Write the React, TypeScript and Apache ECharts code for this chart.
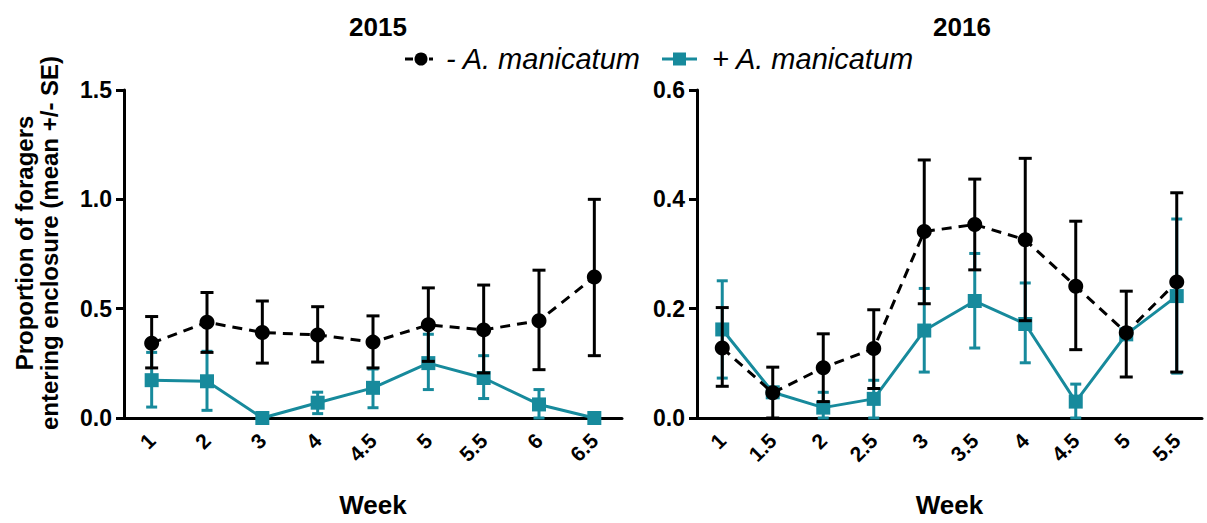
import React, { useEffect, useRef } from "react";
import * as echarts from "echarts";

const weeks2015 = ["1", "2", "3", "4", "4.5", "5", "5.5", "6", "6.5"];
const absent2015 = [0.342, 0.438, 0.391, 0.38, 0.347, 0.426, 0.403, 0.445, 0.645];
const absent2015Upper = [0.464, 0.574, 0.535, 0.509, 0.467, 0.595, 0.608, 0.676, 1.0];
const absent2015Lower = [0.229, 0.3, 0.251, 0.256, 0.229, 0.259, 0.206, 0.221, 0.285];
const present2015 = [0.173, 0.168, 0, 0.07, 0.138, 0.251, 0.183, 0.062, 0];
const present2015Upper = [0.3, 0.305, 0, 0.118, 0.224, 0.383, 0.285, 0.13, 0];
const present2015Lower = [0.05, 0.035, 0, 0.02, 0.047, 0.13, 0.089, 0, 0];

const weeks2016 = ["1", "1.5", "2", "2.5", "3", "3.5", "4", "4.5", "5", "5.5"];
const absent2016 = [0.128, 0.046, 0.092, 0.127, 0.341, 0.354, 0.326, 0.241, 0.156, 0.249];
const absent2016Upper = [0.202, 0.093, 0.154, 0.198, 0.472, 0.437, 0.475, 0.36, 0.232, 0.412];
const absent2016Lower = [0.058, 0, 0.03, 0.054, 0.209, 0.271, 0.178, 0.125, 0.075, 0.084];
const present2016 = [0.162, 0.047, 0.019, 0.035, 0.16, 0.214, 0.172, 0.03, 0.153, 0.223];
const present2016Upper = [0.251, 0.053, 0.047, 0.069, 0.237, 0.301, 0.247, 0.062, 0.16, 0.364];
const present2016Lower = [0.073, 0.041, 0, 0, 0.084, 0.128, 0.101, 0, 0.146, 0.082];

const yTicks2015 = [0, 0.5, 1.0, 1.5];
const yTicks2016 = [0, 0.2, 0.4, 0.6];

const NAME_ABSENT = "- A. manicatum";
const NAME_PRESENT = "+ A. manicatum";
const BLACK = "#000000";
const TEAL = "#178a9c";
const FONT = "Liberation Sans, Arial, sans-serif";

function errData(lower: number[], upper: number[]) {
  return lower.map((lo, i) => [i, lo, upper[i]]);
}

function errSeries(name: string, idx: number, data: number[][], color: string, z: number, w: number) {
  return {
    name,
    type: "custom",
    xAxisIndex: idx,
    yAxisIndex: idx,
    z,
    encode: { x: 0, y: [1, 2] },
    data,
    renderItem: (_params: any, api: any) => {
      const x = api.value(0);
      const lo = api.coord([x, api.value(1)]);
      const hi = api.coord([x, api.value(2)]);
      if (Math.abs(hi[1] - lo[1]) < 0.5) return null;
      const style = { stroke: color, lineWidth: 3 };
      return {
        type: "group",
        children: [
          { type: "line", shape: { x1: lo[0], y1: lo[1], x2: hi[0], y2: hi[1] }, style },
          { type: "line", shape: { x1: lo[0] - w, y1: lo[1], x2: lo[0] + w, y2: lo[1] }, style },
          { type: "line", shape: { x1: hi[0] - w, y1: hi[1], x2: hi[0] + w, y2: hi[1] }, style },
        ],
      };
    },
  };
}

function lineSeries(name: string, idx: number, data: number[], color: string, dashed: boolean, z: number) {
  return {
    name,
    type: "line",
    xAxisIndex: idx,
    yAxisIndex: idx,
    z,
    data,
    symbol: dashed ? "circle" : "rect",
    symbolSize: dashed ? 15 : 14,
    itemStyle: { color },
    lineStyle: { color, width: 3, type: dashed ? [10, 7] : "solid" },
  };
}

function xAxis(idx: number, cats: string[]) {
  return {
    type: "category",
    gridIndex: idx,
    data: cats,
    boundaryGap: true,
    axisLine: { lineStyle: { color: "#000", width: 3 } },
    axisTick: { alignWithLabel: true, length: 9, lineStyle: { color: "#000", width: 3 } },
    axisLabel: {
      rotate: 45,
      margin: 19,
      color: "#000",
      fontSize: 21,
      fontWeight: "bold",
      fontFamily: FONT,
    },
    name: "Week",
    nameLocation: "middle",
    nameGap: 74,
    nameTextStyle: { color: "#000", fontSize: 26, fontWeight: "bold", fontFamily: FONT },
  };
}

function yAxis(idx: number, ticks: number[]) {
  return {
    type: "value",
    gridIndex: idx,
    min: ticks[0],
    max: ticks[ticks.length - 1],
    interval: ticks[1] - ticks[0],
    splitLine: { show: false },
    axisLine: { show: true, lineStyle: { color: "#000", width: 3 } },
    axisTick: { show: true, length: 8, lineStyle: { color: "#000", width: 3 } },
    axisLabel: {
      color: "#000",
      fontSize: 23,
      fontWeight: "bold",
      fontFamily: FONT,
      margin: 12,
      formatter: (v: number) => v.toFixed(1),
    },
  };
}

const LEGEND_Y = 59;
const legendText = { fontSize: 29, fontStyle: "italic", fontFamily: FONT, fill: "#000", verticalAlign: "middle" };

export default function App() {
  const ref = useRef<HTMLDivElement>(null);
  useEffect(() => {
    document.body.style.margin = "0";
    if (!ref.current) return;
    const chart = echarts.init(ref.current, null, { renderer: "svg" });
    chart.setOption({
      animation: false,
      backgroundColor: "#ffffff",
      title: [
        {
          text: "2015",
          left: 373,
          top: 9,
          textAlign: "center",
          textStyle: { fontSize: 26, fontWeight: "bold", color: "#000", fontFamily: FONT },
        },
        {
          text: "2016",
          left: 957,
          top: 9,
          textAlign: "center",
          textStyle: { fontSize: 26, fontWeight: "bold", color: "#000", fontFamily: FONT },
        },
      ],
      grid: [
        { left: 124, top: 90, width: 498, height: 332 },
        { left: 697, top: 90, width: 505, height: 332 },
      ],
      xAxis: [xAxis(0, weeks2015), xAxis(1, weeks2016)],
      yAxis: [yAxis(0, yTicks2015), yAxis(1, yTicks2016)],
      graphic: [
        {
          type: "text",
          x: 37,
          y: 243,
          rotation: Math.PI / 2,
          style: {
            text: "Proportion of foragers\nentering enclosure (mean +/- SE)",
            align: "center",
            verticalAlign: "middle",
            fontSize: 24,
            fontWeight: "bold",
            fontFamily: FONT,
            fill: "#000",
            lineHeight: 25,
          },
        },
        // legend: - A. manicatum
        { type: "line", shape: { x1: 405, y1: LEGEND_Y, x2: 413, y2: LEGEND_Y }, style: { stroke: BLACK, lineWidth: 3 } },
        { type: "circle", shape: { cx: 421, cy: LEGEND_Y, r: 6.5 }, style: { fill: BLACK } },
        { type: "line", shape: { x1: 429, y1: LEGEND_Y, x2: 433, y2: LEGEND_Y }, style: { stroke: BLACK, lineWidth: 3 } },
        { type: "text", x: 446, y: LEGEND_Y, style: { ...legendText, text: NAME_ABSENT } },
        // legend: + A. manicatum
        { type: "line", shape: { x1: 662, y1: LEGEND_Y, x2: 697, y2: LEGEND_Y }, style: { stroke: TEAL, lineWidth: 3 } },
        { type: "rect", shape: { x: 673, y: LEGEND_Y - 6.5, width: 13, height: 13 }, style: { fill: TEAL } },
        { type: "text", x: 712, y: LEGEND_Y, style: { ...legendText, text: NAME_PRESENT } },
      ],
      series: [
        errSeries("err+2015", 0, errData(present2015Lower, present2015Upper), TEAL, 2, 5.5),
        lineSeries(NAME_PRESENT, 0, present2015, TEAL, false, 3),
        errSeries("err-2015", 0, errData(absent2015Lower, absent2015Upper), BLACK, 4, 6.5),
        lineSeries(NAME_ABSENT, 0, absent2015, BLACK, true, 5),
        errSeries("err+2016", 1, errData(present2016Lower, present2016Upper), TEAL, 2, 5.5),
        lineSeries(NAME_PRESENT, 1, present2016, TEAL, false, 3),
        errSeries("err-2016", 1, errData(absent2016Lower, absent2016Upper), BLACK, 4, 6.5),
        lineSeries(NAME_ABSENT, 1, absent2016, BLACK, true, 5),
      ],
    });
    return () => chart.dispose();
  }, []);
  return <div ref={ref} style={{ width: 1207, height: 523 }} />;
}
